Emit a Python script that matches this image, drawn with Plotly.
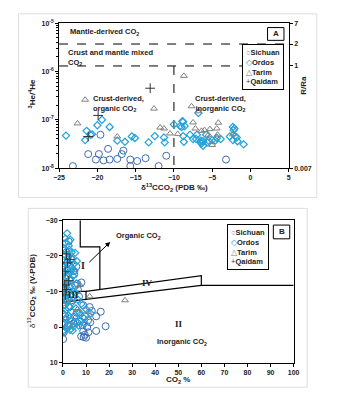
import plotly.graph_objects as go

W, H = 344, 400
def fx(p): return p / W
def fy(p): return 1 - p / H

FONT = "Liberation Sans"
SERIF = "Liberation Serif"

# ---------------- Panel A data ----------------
a_sichuan_x = [-23.2, -21.2, -20.2, -19.8, -19.6, -19.2, -18.6, -18.4, -17.4, -16.8, -16.6, -15.7, -15.7, -14.8, -13.7, -12.0, -11.0, -3.2]
a_sichuan_y = [1.1e-8, 1.95e-8, 1.5e-8, 1.95e-8, 4.9e-8, 1.44e-8, 2.5e-8, 1.5e-8, 1.55e-8, 1.95e-8, 2.3e-8, 1.5e-8, 1.1e-8, 1.4e-8, 1.6e-8, 1.1e-8, 1.8e-8, 1.5e-8]

a_ordos_x = [-24.1, -21.4, -20.0, -19.4, -18.4, -21.6, -20.9, -20.7, -17.4, -16.4, -15.5, -15.1, -13.3, -12.5, -11.3, -11.2,
             -10.0, -9.0, -8.8, -8.7, -6.8, -8.9, -9.2, -8.6, -8.8, -7.9, -7.5, -7.1, -6.5, -6.2, -6.5, -6.4, -6.2, -5.6,
             -5.5, -5.0, -4.6, -3.9, -4.4, -5.8, -2.3, -2.1, -2.2, -2.7, -2.0, -1.8, -2.3, -1.7, -0.9, -7.0]
a_ordos_y = [4.7e-8, 5.9e-8, 7.7e-8, 1.0e-7, 7.1e-8, 3.8e-8, 4.9e-8, 5.0e-8, 3.7e-8, 3.5e-8, 4.5e-8, 4.2e-8, 3.4e-8, 4.6e-8, 4.3e-8, 3.4e-8,
             8.0e-8, 7.1e-8, 9.1e-8, 3.5e-8, 1.38e-7, 9.3e-8, 7.4e-8, 7.4e-8, 4.6e-8, 4.9e-8, 4.0e-8, 4.0e-8, 3.7e-8, 3.6e-8, 3.4e-8, 3.2e-8, 2.9e-8, 3.4e-8,
             3.7e-8, 3.8e-8, 3.7e-8, 4.0e-8, 4.2e-8, 4.9e-8, 7.1e-8, 6.6e-8, 6.1e-8, 4.5e-8, 4.6e-8, 4.3e-8, 3.8e-8, 3.6e-8, 3.1e-8, 4.9e-8]

a_tarim_x = [-21.6, -22.6, -12.6, -17.4, -11.8, -11.3, -10.5, -9.5, -8.7, -7.7, -6.8, -7.5, -7.2, -6.4, -6.0, -5.5, -5.3, -4.2, -4.4, -4.3, -5.0, -2.3]
a_tarim_y = [2.6e-7, 8.4e-8, 1.7e-7, 4.5e-8, 6.9e-8, 6.6e-8, 5.2e-8, 5.1e-8, 8.1e-7, 1.9e-7, 1.5e-7, 8.8e-8, 6.6e-8, 5.9e-8, 6.1e-8, 4.9e-8, 6.4e-8, 8.7e-8, 6.6e-8, 4.9e-8, 3.0e-8, 5.0e-8]

a_qaidam_x = [-13.1, -19.9, -21.2]
a_qaidam_y = [4.5e-7, 1.23e-7, 4.5e-8]

# class boundaries (panel A)
a_mantle_limit = 3.7e-6      # 2 Ra
a_mixed_limit = 1.3e-6       # 1 Ra
a_org_inorg_x = -10
a_x_range = [-25, 5]
a_y_ticks = [1e-8, 1e-7, 1e-6, 1e-5]
a_y_ticktext = ["10<sup>-8</sup>", "10<sup>-7</sup>", "10<sup>-6</sup>", "10<sup>-5</sup>"]
ra_ticks = [1e-5, a_mantle_limit, a_mixed_limit, 1e-8]
ra_ticktext = ["7", "2", "1", "0.007"]

# ---------------- Panel B data ----------------
b_sichuan = [(16.4, -4.3), (14.4, -3.0), (18.5, -0.2), (14.4, 1.1), (8.8, 1.2), (9.5, 2.2), (7.9, 2.6), (5.3, -1.5), (7.4, -1.5),
             (10.9, -1.9), (11.8, -1.3), (8.8, -6.1), (11.6, -5.6), (3.2, -2.4), (0.1, 0.8), (0.4, 1.5), (0.1, 3.4), (4.6, -15.7),
             (4.9, -14.8), (5.3, -11.6), (6.3, -12.1), (4.6, -1.0), (1.0, -21.5), (2.0, -18.0), (0.5, -16.0), (3.0, -13.0),
             (1.5, -9.0), (0.3, -7.0), (2.5, -5.5), (6.0, -4.0), (9.5, -3.0), (10.5, 0.0), (8.5, -0.5), (12.5, -4.5), (7.0, -8.5),
             (3.8, -7.5), (1.0, -3.0), (0.5, -1.0), (2.0, -0.3), (9.0, 2.8), (10.0, 3.0), (11.0, 1.5), (3.5, -19.0), (2.5, -24.0),
             (6.5, -10.5), (8.0, -12.5), (0.8, -12.5), (5.8, -17.0)]
b_sichuan_x = [p[0] for p in b_sichuan]
b_sichuan_y = [p[1] for p in b_sichuan]

b_ordos = [(1.8, -26.3), (3.2, -24.5), (1.1, -23.6), (2.5, -22.8), (0.6, -22.0), (1.5, -21.3), (3.8, -21.0), (5.3, -20.8), (0.9, -20.2),
           (2.2, -19.6), (4.1, -19.1), (6.0, -18.5), (1.3, -18.0), (2.9, -17.4), (0.5, -17.0), (3.9, -16.7), (1.8, -16.2), (5.0, -15.8),
           (0.8, -15.3), (2.6, -14.9), (4.4, -14.4), (1.2, -13.9), (3.3, -13.5), (0.6, -13.0), (2.0, -12.6), (5.8, -12.2), (1.5, -11.8),
           (3.0, -11.3), (0.9, -10.8), (2.4, -10.4), (4.6, -9.9), (1.1, -9.4), (3.5, -9.0), (0.7, -8.5), (2.2, -8.1), (6.5, -7.7),
           (1.6, -7.3), (4.0, -6.9), (8.0, -6.5), (0.9, -6.1), (2.8, -5.7), (5.6, -5.2), (10.0, -5.0), (1.4, -4.8), (3.6, -4.4),
           (7.2, -4.0), (0.6, -3.6), (2.3, -3.2), (5.0, -2.8), (9.0, -2.5), (1.2, -2.1), (3.8, -1.7), (6.4, -1.3), (0.8, -0.9),
           (2.5, -0.5), (4.6, -0.1), (1.5, 0.4), (3.1, 0.8), (0.5, 1.3), (2.0, -19.0), (1.0, -24.8), (2.7, -21.7), (4.8, -17.8),
           (3.4, -15.6), (1.9, -14.2), (0.4, -11.9), (5.4, -9.6), (7.5, -3.4), (9.5, -1.0), (12.0, -3.8), (6.8, -0.4), (4.2, 1.0)]
b_ordos_x = [p[0] for p in b_ordos]
b_ordos_y = [p[1] for p in b_ordos]

b_tarim_x = [7.4, 11.6, 6.3, 10.9, 3.9, 26.9, 2.0]
b_tarim_y = [-11.8, -8.6, -5.0, -4.3, -0.4, -7.5, -7.0]

b_qaidam_x = [1.5, 2.0, 1.0, 2.5, 1.5, 1.0, 3.0, 0.8]
b_qaidam_y = [-20.5, -18.0, -15.5, -13.0, -10.5, -9.0, -19.0, -11.8]

# class boundaries (panel B)
b_region1_x = [7.5, 7.5, 16, 16]
b_region1_y = [-30, -22.5, -22.5, -10.5]
b_iv_upper_x = [10, 60, 60, 100]
b_iv_upper_y = [-10, -14.4, -11.7, -11.7]
b_iv_lower_x = [0, 60]
b_iv_lower_y = [-7, -11.7]
b_iii_x = [0, 10, 10]
b_iii_y = [-10, -10, -7.8]

series_names = ["Sichuan", "Ordos", "Tarim", "Qaidam"]

# ---------------- styles ----------------
C_SICH = "#3d6db3"
C_ORD = "#22a3da"
C_TAR = "#808080"
C_QAI = "#333333"
COLORS = {"Sichuan": C_SICH, "Ordos": C_ORD, "Tarim": C_TAR, "Qaidam": C_QAI}
GLYPHS = {"Sichuan": "○", "Ordos": "◇", "Tarim": "△", "Qaidam": "+"}

def styles(name):
    return {
        "Sichuan": dict(symbol="circle-open", size=7, color=C_SICH, line=dict(width=1, color=C_SICH)),
        "Ordos": dict(symbol="diamond-open", size=5.5, color=C_ORD, line=dict(width=1.2, color=C_ORD)),
        "Tarim": dict(symbol="triangle-up-open", size=6, color=C_TAR, line=dict(width=1, color=C_TAR)),
        "Qaidam": dict(symbol="cross-thin-open", size=7, color=C_QAI, line=dict(width=1, color=C_QAI)),
    }[name]

fig = go.Figure()

# panel A boundary lines
line_style = dict(color="black", width=1, dash="dash")
fig.add_trace(go.Scatter(x=a_x_range, y=[a_mantle_limit] * 2, mode="lines", line=line_style,
                         showlegend=False, hoverinfo="skip", xaxis="x", yaxis="y"))
fig.add_trace(go.Scatter(x=a_x_range, y=[a_mixed_limit] * 2, mode="lines", line=line_style,
                         showlegend=False, hoverinfo="skip", xaxis="x", yaxis="y"))
fig.add_trace(go.Scatter(x=[a_org_inorg_x] * 2, y=[a_mixed_limit, 1e-8], mode="lines", line=line_style,
                         showlegend=False, hoverinfo="skip", xaxis="x", yaxis="y"))
# right axis anchor trace
fig.add_trace(go.Scatter(x=[None], y=[None], showlegend=False, hoverinfo="skip", xaxis="x", yaxis="y2"))

for name, xs, ys in [("Sichuan", a_sichuan_x, a_sichuan_y), ("Ordos", a_ordos_x, a_ordos_y),
                     ("Tarim", a_tarim_x, a_tarim_y), ("Qaidam", a_qaidam_x, a_qaidam_y)]:
    fig.add_trace(go.Scatter(x=xs, y=ys, mode="markers", name=name, marker=styles(name),
                             xaxis="x", yaxis="y", showlegend=False))

# panel B boundary lines
solid = dict(color="black", width=1.2)
for xs, ys in [(b_region1_x, b_region1_y), (b_iv_upper_x, b_iv_upper_y), (b_iv_lower_x, b_iv_lower_y), (b_iii_x, b_iii_y)]:
    fig.add_trace(go.Scatter(x=xs, y=ys, mode="lines", line=solid, showlegend=False, hoverinfo="skip",
                             xaxis="x3", yaxis="y3"))

for name, xs, ys in [("Sichuan", b_sichuan_x, b_sichuan_y), ("Ordos", b_ordos_x, b_ordos_y),
                     ("Tarim", b_tarim_x, b_tarim_y), ("Qaidam", b_qaidam_x, b_qaidam_y)]:
    fig.add_trace(go.Scatter(x=xs, y=ys, mode="markers", name=name, marker=styles(name),
                             xaxis="x3", yaxis="y3", showlegend=False))

tickfont = dict(family=FONT, size=7, color="#222", weight="bold")
axis_common = dict(showgrid=False, zeroline=False, showline=True, linecolor="black", linewidth=1,
                   ticks="outside", ticklen=3, tickcolor="black", tickfont=tickfont)

minor_vals = [m * 10 ** e for e in (-8, -7, -6) for m in range(2, 10)]

fig.update_layout(
    width=W, height=H, margin=dict(l=0, r=0, t=0, b=0),
    paper_bgcolor="white", plot_bgcolor="white", showlegend=False,
    font=dict(family=FONT, size=7, color="#222"),
    xaxis=dict(domain=[fx(55), fx(293)], anchor="y", range=a_x_range, dtick=5, tick0=-25, mirror=True, **axis_common),
    yaxis=dict(domain=[fy(167), fy(19.5)], anchor="x", type="log", range=[-8, -5],
               tickvals=a_y_ticks, ticktext=a_y_ticktext,
               minor=dict(tickvals=minor_vals, ticks="outside", ticklen=2, tickcolor="black"),
               **axis_common),
    yaxis2=dict(overlaying="y", side="right", anchor="x", type="log", range=[-8, -5],
                tickvals=ra_ticks, ticktext=ra_ticktext, **axis_common),
    xaxis3=dict(domain=[fx(59), fx(298)], anchor="y3", range=[0, 100], dtick=10, mirror=True, **axis_common),
    yaxis3=dict(domain=[fy(365), fy(220)], anchor="x3", range=[10, -30], dtick=10, mirror=True, **axis_common),
)

shapes = [
    dict(type="rect", xref="paper", yref="paper", x0=fx(13), x1=fx(322), y0=fy(197), y1=fy(10),
         line=dict(color="#dddddd", width=1), layer="below"),
    dict(type="rect", xref="paper", yref="paper", x0=fx(23), x1=fx(312), y0=fy(390), y1=fy(208),
         line=dict(color="#dddddd", width=1), layer="below"),
    dict(type="rect", xref="paper", yref="paper", x0=fx(271), x1=fx(288), y0=fy(37), y1=fy(24),
         line=dict(color="black", width=1), fillcolor="white"),
    dict(type="rect", xref="paper", yref="paper", x0=fx(277), x1=fx(294), y0=fy(239), y1=fy(225),
         line=dict(color="black", width=1), fillcolor="white"),
]
fig.update_layout(shapes=shapes)

bold = lambda s: "<b>" + s + "</b>"
def pa(text, x, y, size=7.5, xanchor="left", align="left", angle=0, family=FONT):
    return dict(text=text, x=fx(x), y=fy(y), xref="paper", yref="paper", showarrow=False,
                xanchor=xanchor, yanchor="middle", align=align, textangle=angle,
                font=dict(family=family, size=size, color="#222"))

def legend_box(x, y):
    lines = ["<span style='color:%s'>%s</span><b>%s</b>" % (COLORS[n], GLYPHS[n], n) for n in series_names]
    return dict(text="<br>".join(lines), x=fx(x), y=fy(y), xref="paper", yref="paper", showarrow=False,
                xanchor="left", yanchor="top", align="left", bgcolor="white", bordercolor="black",
                borderwidth=1, borderpad=3, font=dict(family=FONT, size=7.5, color="#222"))

annotations = [
    pa(bold("Mantle-derived CO<sub>2</sub>"), 64, 28),
    pa(bold("Crust and mantle mixed<br>CO<sub>2</sub>"), 62, 54),
    pa(bold("Crust-derived,<br>organic CO<sub>2</sub>"), 88, 101),
    pa(bold("Crust-derived,<br>inorganic CO<sub>2</sub>"), 222, 101, xanchor="center", align="center"),
    pa(bold("A"), 279.5, 30.5, size=8, xanchor="center"),
    pa(bold("B"), 285.5, 232, size=8, xanchor="center"),
    pa(bold("δ<sup>13</sup>CCO<sub>2</sub> (PDB ‰)"), 175, 187, size=8, xanchor="center"),
    pa(bold("<sup>3</sup>He/<sup>4</sup>He"), 27, 92, size=8, xanchor="center", angle=-90),
    pa(bold("R/Ra"), 308, 83, size=8, xanchor="center", angle=-90),
    pa(bold("CO<sub>2</sub> %"), 178, 383, size=8, xanchor="center"),
    pa("δ<sup>13</sup>" + bold("CCO<sub>2</sub> ‰ (V-PDB)"), 27, 292, size=8, xanchor="center", angle=-90),
    legend_box(245, 41),
    legend_box(229, 224),
]

def da(text, x, y, size=7.5, family=FONT):
    return dict(text=text, x=x, y=y, xref="x3", yref="y3", showarrow=False,
                font=dict(family=family, size=size, color="#222"))

annotations += [
    da(bold("I"), 8.8, -17.3, size=10, family=SERIF),
    da(bold("Organic CO<sub>2</sub>"), 32.6, -25.6),
    da(bold("IV"), 36.8, -12.4, size=9, family=SERIF),
    da(bold("III"), 4.6, -8.9, size=9, family=SERIF),
    da(bold("II"), 50.2, -0.8, size=9, family=SERIF),
    da(bold("Inorganic CO<sub>2</sub>"), 51.5, 4.3),
    dict(x=20.5, y=-23.9, ax=10.8, ay=-17.8, xref="x3", yref="y3", axref="x3", ayref="y3",
         text="", showarrow=True, arrowhead=2, arrowsize=1, arrowwidth=1, arrowcolor="black"),
]
fig.update_layout(annotations=annotations)

fig.write_html("out.html")
